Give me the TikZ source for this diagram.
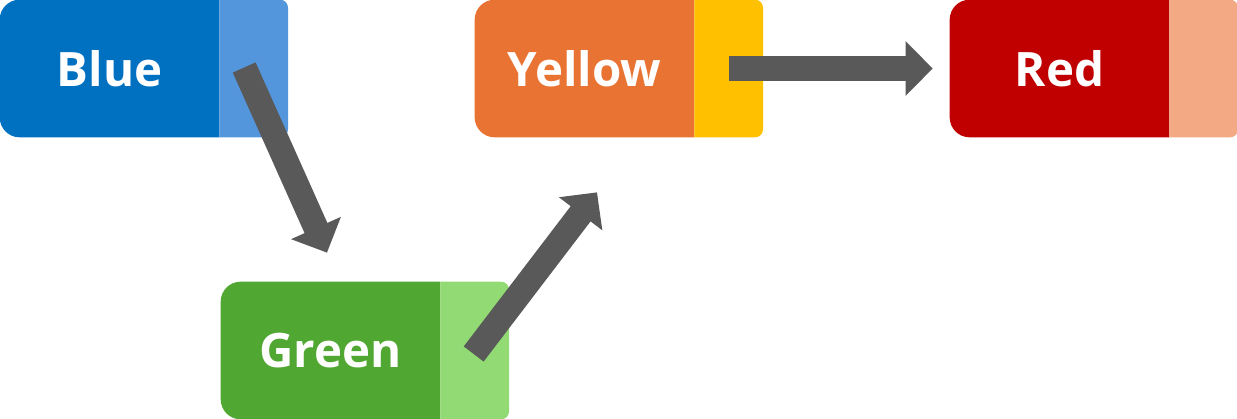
\documentclass[tikz,border=0pt]{standalone}
\usepackage{fontspec}
\setsansfont{Open Sans}
\usetikzlibrary{positioning, arrows.meta, calc, backgrounds}

\definecolor{blueMain}{RGB}{0,112,192}
\definecolor{blueTab}{RGB}{84,150,220}
\definecolor{yellowMain}{RGB}{233,115,51}
\definecolor{yellowTab}{RGB}{255,192,0}
\definecolor{redMain}{RGB}{192,0,0}
\definecolor{redTab}{RGB}{243,169,131}
\definecolor{greenMain}{RGB}{80,167,50}
\definecolor{greenTab}{RGB}{146,218,115}
\definecolor{arrowGray}{RGB}{89,89,89}

\begin{document}
\begin{tikzpicture}[
  x=0.02cm, y=-0.02cm,
  font=\sffamily\bfseries\fontsize{27}{29}\selectfont,
  mainbox/.style={minimum width=4.38cm, minimum height=2.74cm, inner sep=0pt, text=white},
  tabbox/.style={minimum width=1.36cm, minimum height=2.74cm, inner sep=0pt},
  flow/.style={-{Triangle[length=0.54cm, width=1.06cm]}, line width=0.5cm, draw=arrowGray}
]
\useasboundingbox (0,0) rectangle (1237,419);

% colour boxes, text part + tab
\node[mainbox] (blue) at (109.5,68.5) {Blue};
\node[tabbox, right=0pt of blue] (bluetab) {};
\node[mainbox] (yellow) at (584.5,68.5) {Yellow};
\node[tabbox, right=0pt of yellow] (yellowtab) {};
\node[mainbox] (red) at (1059.5,68.5) {Red};
\node[tabbox, right=0pt of red] (redtab) {};
\node[mainbox] (green) at (330.5,350.5) {Green};
\node[tabbox, right=0pt of green] (greentab) {};

% fills behind the text
\begin{scope}[on background layer]
  \foreach \n/\c/\t in {blue/blueMain/blueTab, yellow/yellowMain/yellowTab,
                        red/redMain/redTab, green/greenMain/greenTab} {
    \fill[\c] (\n.north east) [rounded corners=0.4cm] -- (\n.north west)
      -- (\n.south west) [sharp corners] -- (\n.south east) -- cycle;
    \fill[\t] (\n tab.north west) [rounded corners=0.16cm] -- (\n tab.north east)
      -- (\n tab.south east) [sharp corners] -- (\n tab.south west) -- cycle;
  }
\end{scope}

% arrows
\draw[flow] ($(bluetab.center)+(-9.5,-1)$) -- ($(green.north)+(-3.5,-29)$);
\draw[flow] ($(greentab.center)+(-1,3.5)$) -- ($(yellow.south)+(12.5,55)$);
\draw[flow, shorten >=0.34cm] (yellowtab.center) -- (red.west);

\end{tikzpicture}
\end{document}
